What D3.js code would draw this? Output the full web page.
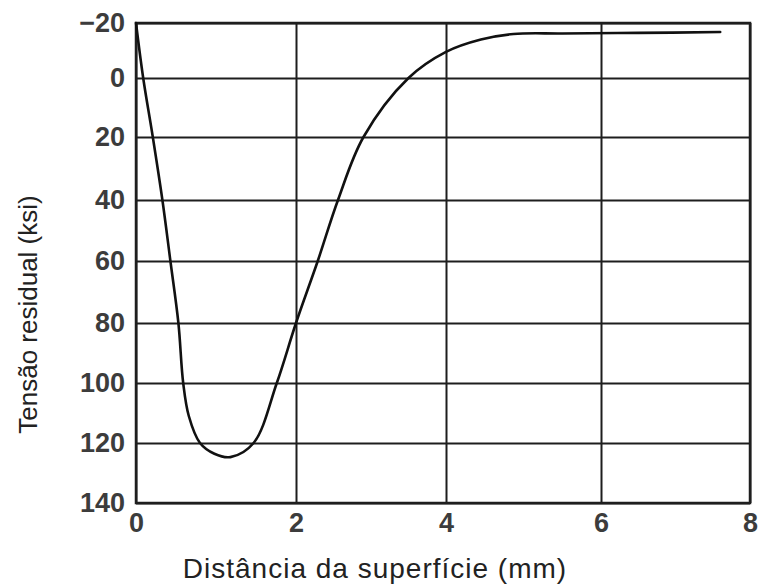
<!DOCTYPE html>
<html>
<head>
<meta charset="utf-8">
<script src="https://cdn.jsdelivr.net/npm/d3@7"></script>
<style>
  html, body { margin: 0; padding: 0; background: #fff; }
  svg { display: block; }
</style>
</head>
<body>
<svg id="chart" width="758" height="584"></svg>
<script>
// ---- data ----
const xTicks = [0, 2, 4, 6, 8];
const yTicks = [-20, 0, 20, 40, 60, 80, 100, 120, 140];
const distance = [0, 0.09, 0.21, 0.33, 0.43, 0.53, 0.59, 0.66, 0.8, 0.98, 1.18, 1.47, 1.76, 2.0, 2.29, 2.56, 2.9, 3.5, 4.0, 4.45, 4.87, 5.5, 6.5, 7.6];
const stress   = [-20, 0, 20, 40, 60, 80, 100, 111, 120, 123.6, 124.7, 120, 100, 80, 60, 40, 20, 0, -9.5, -14, -16, -16.2, -16.4, -16.7];
const xLabel = "Distância da superfície (mm)";
const yLabel = "Tensão residual (ksi)";

(function () {
// ---- layout ----
const svg = d3.select("#chart");
const x = d3.scaleLinear().domain(xTicks).range([136, 296, 446, 601, 750]);
const y = d3.scaleLinear().domain(yTicks).range([23, 78, 137, 200, 261, 323, 383, 443, 503]);
const pLeft = x(0), pRight = x(8), pTop = y(-20), pBottom = y(140);

const gridColor = "#1e1e1e";
const tickColor = "#3c3c3c";
const fontFam = "'Liberation Sans', Arial, sans-serif";

// x axis with vertical grid lines
const gx = svg.append("g")
  .attr("transform", `translate(0,${pBottom})`)
  .call(d3.axisBottom(x).tickValues(xTicks).tickSize(-(pBottom - pTop)).tickPadding(10).tickFormat(d3.format("d")));
gx.select(".domain").remove();
gx.selectAll("line").attr("stroke", gridColor).attr("stroke-width", 2);
gx.selectAll("text")
  .attr("fill", tickColor)
  .style("font-family", fontFam)
  .style("font-size", "27px")
  .style("font-weight", "bold");

// y axis with horizontal grid lines
const gy = svg.append("g")
  .attr("transform", `translate(${pLeft},0)`)
  .call(d3.axisLeft(y).tickValues(yTicks).tickSize(-(pRight - pLeft)).tickPadding(11).tickFormat(d3.format("d")));
gy.select(".domain").remove();
gy.selectAll("line").attr("stroke", gridColor).attr("stroke-width", 2);
gy.selectAll("text")
  .attr("fill", tickColor)
  .style("font-family", fontFam)
  .style("font-size", "27px")
  .style("font-weight", "bold");

// frame
svg.append("rect")
  .attr("x", pLeft).attr("y", pTop)
  .attr("width", pRight - pLeft).attr("height", pBottom - pTop)
  .attr("fill", "none").attr("stroke", gridColor).attr("stroke-width", 2.5);

// curve
const line = d3.line()
  .x((d, i) => x(distance[i]))
  .y(d => y(d))
  .curve(d3.curveCatmullRom.alpha(0.5));
svg.append("path")
  .datum(stress)
  .attr("d", line)
  .attr("fill", "none")
  .attr("stroke", "#111")
  .attr("stroke-width", 2.6)
  .attr("stroke-linejoin", "round")
  .attr("stroke-linecap", "round");

// axis titles
svg.append("text")
  .attr("x", 375).attr("y", 578)
  .attr("text-anchor", "middle")
  .attr("fill", "#222")
  .style("font-family", fontFam)
  .style("font-size", "28px")
  .style("letter-spacing", "1px")
  .text(xLabel);

svg.append("text")
  .attr("transform", `translate(37,${(192 + 437) / 2}) rotate(-90)`)
  .attr("text-anchor", "middle")
  .attr("fill", "#222")
  .style("font-family", fontFam)
  .style("font-size", "26px")
  .text(yLabel);
})();
</script>
</body>
</html>
